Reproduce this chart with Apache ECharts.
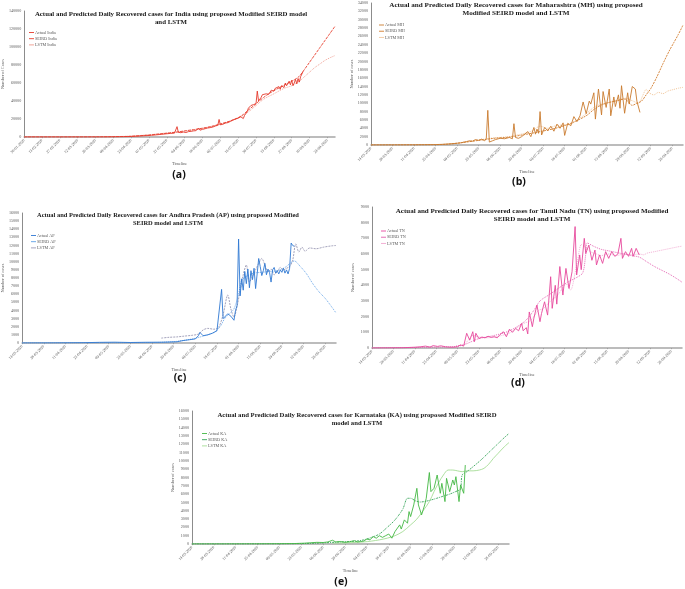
<!DOCTYPE html>
<html><head><meta charset="utf-8">
<script src="https://cdn.jsdelivr.net/npm/echarts@6/dist/echarts.min.js"></script>
<style>html,body{margin:0;padding:0;background:#fff}#c{width:685px;height:589px}</style>
</head><body><div id="c"></div>
<script>
// ---- x values are day offsets from each panel's start date ----
const indiaStart = '2020-01-30';
const stateStart = '2020-03-14';

const indiaActual = [[0,0],[30,0],[45,5],[55,20],[62,50],[68,120],[72,200],[78,350],[84,600],[88,900],[92,1200],[96,1500],[100,1900],[104,2400],[108,3000],[112,3600],[115,4000],[118,4300],[119,5000],[120,11500],[121,5200],[123,4800],[125,5500],[127,5000],[129,6000],[131,6300],[133,6800],[135,7100],[136,7400],[137,10000],[138,7600],[140,8500],[142,9200],[144,10000],[146,10400],[148,11000],[150,12200],[152,13000],[153,19500],[154,13500],[156,14200],[158,15500],[160,16000],[162,17400],[164,19000],[166,20000],[168,21000],[170,22500],[172,20500],[173,24000],[175,28000],[176,32000],[177,30000],[178,35000],[179,33000],[180,36000],[181,34000],[182,37000],[183,51000],[184,40000],[186,44000],[187,47000],[188,45000],[190,48000],[191,50000],[192,47500],[194,52000],[196,51000],[197,54000],[198,52500],[200,56000],[201,53000],[202,57000],[204,55000],[205,60000],[206,57000],[208,62000],[209,58000],[210,63000],[211,57000],[212,60000],[213,64000],[214,59000],[215,65000],[216,61000],[217,67000],[218,66000],[219,73000]];
const indiaSEIRD = [[0,0],[40,0],[60,100],[70,300],[84,800],[98,2200],[105,3200],[112,4200],[120,5500],[126,6800],[133,8200],[140,9800],[147,11800],[154,14500],[161,17500],[168,21500],[172,25000],[176,30000],[180,34500],[184,39500],[188,44000],[192,48000],[196,51500],[200,54500],[204,57500],[208,60500],[212,63500],[216,67500],[220,75000],[224,83000],[228,91000],[232,99000],[236,107000],[240,115000],[244,123000]];
const indiaLSTM = [[60,200],[70,400],[84,1000],[98,2500],[112,4500],[126,6500],[140,9500],[154,14000],[168,21000],[176,28000],[182,35000],[188,42000],[196,48000],[204,54000],[210,57000],[216,62000],[220,67000],[224,72000],[228,77000],[232,81000],[236,85000],[240,88000],[244,90500]];

const mhActual = [[0,0],[14,10],[28,30],[35,60],[42,100],[46,150],[50,250],[54,350],[58,500],[62,800],[64,1000],[66,900],[68,1300],[70,1100],[72,1400],[74,1000],[75,1500],[76,8300],[77,700],[79,1000],[81,1300],[84,1600],[87,1500],[90,1800],[92,1500],[93,5100],[94,1800],[96,1600],[98,2000],[100,2600],[102,3200],[104,2000],[106,4200],[107,2600],[108,3800],[109,2800],[110,8000],[111,2400],[113,4200],[115,3400],[117,4500],[119,3300],[121,5000],[123,4000],[125,5300],[126,2300],[128,5200],[130,4600],[132,6800],[134,5600],[136,7000],[138,10300],[140,7500],[142,10500],[143,9800],[145,12500],[146,6200],[148,13400],[150,7200],[151,12800],[153,9000],[155,13400],[156,7000],[158,11500],[159,9200],[161,12000],[162,8800],[163,14200],[165,7600],[167,12500],[168,9800],[170,14000],[172,13400],[173,10500],[175,7800]];
const mhSEIRD = [[0,0],[40,50],[50,200],[60,600],[70,1100],[80,1600],[90,1900],[100,2500],[110,3200],[120,4000],[130,5200],[140,7000],[145,8500],[150,9600],[155,10200],[160,10600],[165,11000],[170,9500],[173,10000],[176,10500],[179,12000],[182,13500],[186,16300],[190,19500],[194,22500],[197,24500],[200,26500],[203,28700]];
const mhLSTM = [[60,700],[70,1200],[80,1700],[90,2000],[95,2400],[100,2800],[105,3400],[110,4500],[115,4000],[120,4600],[125,4800],[130,5000],[135,6200],[140,7500],[145,9000],[150,9800],[155,10200],[160,10600],[165,11200],[170,10600],[174,10000],[177,12000],[179,13300],[181,12500],[184,12000],[187,12600],[190,12300],[193,12900],[197,13300],[200,13600],[203,13800]];

const apActual = [[0,0],[20,10],[40,40],[50,80],[60,100],[70,60],[80,90],[90,100],[100,150],[104,300],[108,400],[112,500],[114,900],[115,1300],[117,900],[120,1000],[123,1200],[126,1500],[127,1300],[129,6600],[130,3000],[131,2800],[133,3600],[135,3300],[137,2800],[138,4000],[139,4600],[140,12800],[141,5800],[142,7900],[143,6500],[144,8800],[145,7300],[146,9100],[147,6800],[148,8900],[149,7800],[150,9200],[151,6700],[152,8500],[153,10400],[154,9400],[155,8300],[156,8900],[157,9800],[158,8400],[159,9100],[160,8700],[161,7500],[162,9000],[163,9300],[164,8600],[165,8900],[166,8500],[167,9000],[168,8700],[169,9200],[170,8600],[171,9000],[172,8500],[173,9200],[174,12300],[175,12000],[176,11900]];
const apSEIRD = [[0,0],[60,20],[90,80],[100,200],[110,500],[118,900],[124,1300],[128,2000],[131,3000],[134,3600],[137,4200],[140,6000],[142,7700],[145,8200],[150,8600],[155,8700],[160,8800],[165,8900],[170,9300],[174,9900],[176,10100],[180,9400],[184,8500],[188,7300],[192,6300],[196,5500],[200,4500],[203,3700]];
const apLSTM = [[90,600],[95,700],[100,750],[105,850],[110,950],[114,1100],[117,1600],[120,1800],[124,1700],[127,1900],[130,3500],[133,5900],[135,4200],[137,3200],[139,4500],[141,6500],[143,8400],[145,9600],[147,7500],[149,8200],[151,9000],[153,9800],[155,10400],[157,9600],[159,8700],[161,9100],[163,8400],[165,8800],[167,9300],[169,9000],[171,9200],[173,9400],[175,10200],[177,12200],[179,11200],[181,11800],[183,11300],[186,11700],[190,11600],[195,11800],[200,11950],[203,12000]];

const tnActual = [[0,0],[10,5],[20,15],[28,50],[32,80],[35,120],[38,60],[40,150],[43,100],[45,140],[48,80],[50,60],[53,50],[56,80],[58,200],[60,120],[62,940],[64,500],[66,1040],[67,400],[68,940],[70,600],[72,700],[74,650],[76,750],[78,680],[80,720],[82,650],[84,870],[86,1040],[88,720],[90,1200],[92,1000],[94,1250],[96,1100],[98,1570],[99,1100],[101,1300],[102,900],[103,2300],[105,1360],[106,1900],[108,2740],[110,1680],[111,2200],[113,2950],[115,2100],[117,4550],[118,2530],[120,4000],[121,2800],[123,5200],[125,3380],[127,5080],[129,3800],[131,4870],[133,7750],[134,4660],[136,5940],[137,5000],[139,7000],[140,6040],[142,6570],[144,5600],[146,6250],[147,5300],[149,5940],[151,5400],[153,6150],[155,5720],[157,6150],[159,5850],[161,6000],[163,7000],[164,5720],[166,6150],[168,5850],[170,6360],[171,5850],[173,6360],[175,5940]];
const tnSEIRD = [[0,0],[40,50],[55,100],[60,200],[65,400],[70,600],[80,800],[90,1100],[100,1700],[106,2400],[110,3000],[116,3400],[122,3800],[128,4200],[134,4500],[138,4800],[140,6000],[141,6700],[145,6500],[150,6300],[155,6200],[160,6100],[165,6000],[170,5900],[175,5800],[180,5500],[185,5200],[190,4950],[195,4700],[200,4400],[203,4200]];
const tnLSTM = [[55,150],[60,200],[63,500],[66,800],[70,700],[75,650],[80,700],[85,800],[90,950],[95,1300],[100,1600],[103,1700],[106,2000],[109,2400],[112,2500],[115,2800],[118,3100],[121,3300],[124,3700],[127,4100],[130,3700],[133,4800],[135,5800],[137,6600],[139,6500],[141,6300],[144,6100],[147,6000],[150,5900],[155,6000],[160,5900],[165,6000],[170,5950],[175,6000],[178,5950],[180,6050],[185,6150],[190,6250],[195,6350],[200,6450],[203,6500]];

const kaActual = [[0,0],[20,5],[40,15],[55,30],[65,50],[72,100],[76,150],[80,200],[84,180],[87,250],[90,450],[92,250],[95,300],[98,200],[101,280],[104,400],[106,250],[108,300],[110,350],[112,600],[114,500],[116,900],[118,700],[120,1000],[122,800],[124,1000],[126,1200],[128,700],[130,1500],[131,1700],[133,2300],[134,1800],[136,2900],[138,2500],[139,3900],[140,3300],[142,4700],[144,6700],[145,4700],[147,3500],[149,4700],[150,5500],[152,8600],[153,6300],[155,6700],[157,8300],[159,6100],[160,7300],[162,5100],[163,7900],[165,6300],[167,7700],[168,7100],[169,8100],[171,5100],[172,7100],[174,6100],[175,9500]];
const kaSEIRD = [[0,0],[60,20],[80,100],[95,250],[105,350],[110,500],[115,800],[120,1200],[125,2000],[130,2900],[135,4200],[138,5500],[140,5500],[143,5200],[146,5050],[150,5150],[155,5400],[160,5700],[165,6000],[170,6400],[172,6600],[173,8300],[176,8700],[180,9300],[185,10100],[190,11000],[195,11900],[200,12800],[203,13300]];
const kaLSTM = [[90,100],[100,150],[110,250],[115,350],[120,500],[125,700],[130,1000],[135,1500],[140,2300],[144,3000],[148,4000],[152,5100],[155,6300],[158,7400],[161,8300],[164,8900],[167,8900],[170,8800],[173,8700],[176,8800],[180,8800],[184,8900],[187,9100],[190,9600],[193,10300],[196,10900],[200,11700],[203,12200]];

const titles = [
  'Actual and Predicted Daily Recovered cases for India using proposed Modified SEIRD model\nand LSTM',
  'Actual and Predicted Daily Recovered cases for Maharashtra (MH) using proposed\nModified SEIRD model and LSTM',
  'Actual and Predicted Daily Recovered cases for Andhra Pradesh (AP) using proposed Modified\nSEIRD model and LSTM',
  'Actual and Predicted Daily Recovered cases for Tamil Nadu (TN) using proposed Modified\nSEIRD model and LSTM',
  'Actual and Predicted Daily Recovered cases for Karnataka (KA) using proposed Modified SEIRD\nmodel and LSTM'
];
const panelLetters = ['(a)','(b)','(c)','(d)','(e)'];
const yMax = [140000, 34000, 16000, 9000, 16000];
const yStep = [20000, 2000, 1000, 1000, 1000];
const xMax = [244, 203, 203, 203, 203];
const yNames = ['Number of Cases','Number of cases','Number of cases','Number of cases','Number of cases'];
const names = [
  ['Actual India','SEIRD India','LSTM India'],
  ['Actual MH','SEIRD MH','LSTM MH'],
  ['Actual AP','SEIRD AP','LSTM AP'],
  ['Actual TN','SEIRD TN','LSTM TN'],
  ['Actual KA','SEIRD KA','LSTM KA']
];
const seriesData = [
  [indiaActual, indiaSEIRD, indiaLSTM],
  [mhActual, mhSEIRD, mhLSTM],
  [apActual, apSEIRD, apLSTM],
  [tnActual, tnSEIRD, tnLSTM],
  [kaActual, kaSEIRD, kaLSTM]
];

// ---- layout & style (not data) ----
const grids = [
  {left:23, top:11, width:312, height:126},
  {left:371, top:3, width:312, height:142},
  {left:22, top:213, width:314, height:130},
  {left:372, top:207, width:310, height:141},
  {left:192, top:411, width:317, height:133}
];
const titlePos = [[171,10,6.85],[516,1.3,7.15],[168,212,6.45],[532,207,7.05],[357,411.5,6.7]];
const letterPos = [[179,175],[519,182],[180,378],[518,383],[341,582]];
const legendPos = [[29,30.5],[379,23],[31,233.5],[381,229],[202,431.5]];
const styles = [
  [{c:'#e5392b',t:'solid',w:0.9},{c:'#e8402f',t:[3,1],w:0.9},{c:'#ee9a8c',t:[1,1],w:0.9}],
  [{c:'#c97b2e',t:'solid',w:0.9},{c:'#d27a2a',t:[2,1],w:0.9},{c:'#f2c79c',t:[1,1],w:1}],
  [{c:'#2f78d3',t:'solid',w:0.9},{c:'#5d9fe6',t:[1,1],w:0.9},{c:'#9a98b4',t:[2,1],w:0.9}],
  [{c:'#e6479c',t:'solid',w:0.9},{c:'#e25cae',t:[1,1],w:0.9},{c:'#f1a6cf',t:[1,1],w:0.9}],
  [{c:'#43b843',t:'solid',w:0.9},{c:'#33a457',t:[2,1,1,1],w:0.9},{c:'#a5dc95',t:'solid',w:0.9}]
];
const starts = [indiaStart, stateStart, stateStart, stateStart, stateStart];
const serif = 'Liberation Serif';

function fmtDate(startStr, v){
  const p = startStr.split('-').map(Number);
  const d = new Date(Date.UTC(p[0], p[1]-1, p[2]) + v*86400000);
  const dd = String(d.getUTCDate()).padStart(2,'0');
  const mm = String(d.getUTCMonth()+1).padStart(2,'0');
  return dd + '-' + mm + '-' + d.getUTCFullYear();
}

const option = {
  animation:false,
  backgroundColor:'#fff',
  grid: grids.map(g => Object.assign({containLabel:false}, g)),
  xAxis: grids.map((g,i) => ({
    type:'value', gridIndex:i, min:0, max:xMax[i], interval:14,
    name:'Timeline', nameLocation:'middle', nameGap:25,
    nameTextStyle:{fontFamily:serif, fontSize:4.3, color:'#595959'},
    axisLine:{show:true, lineStyle:{color:'#a6a6a6', width:1.5}},
    axisTick:{show:true, length:1.2, lineStyle:{color:'#8c8c8c', width:0.6}},
    splitLine:{show:false},
    axisLabel:{rotate:45, fontSize:3.9, fontFamily:serif, color:'#595959', margin:3, showMaxLabel:false,
      formatter:(v)=>fmtDate(starts[i], v)}
  })),
  yAxis: grids.map((g,i) => ({
    type:'value', gridIndex:i, min:0, max:yMax[i], interval:yStep[i],
    name:yNames[i], nameLocation:'middle', nameGap:17, nameRotate:90,
    nameTextStyle:{fontFamily:serif, fontSize:4.3, color:'#595959'},
    axisLine:{show:true, lineStyle:{color:'#7f7f7f', width:0.9}},
    axisTick:{show:false}, splitLine:{show:false},
    axisLabel:{fontSize:4.1, fontFamily:serif, color:'#595959', margin:3, formatter:(v)=>String(v)}
  })),
  legend: grids.map((g,i) => ({
    orient:'vertical', left:legendPos[i][0], top:legendPos[i][1],
    icon:'rect', itemWidth:5, itemHeight:0.9, itemGap:2.2, padding:0,
    textStyle:{fontFamily:serif, fontSize:4.2, color:'#595959', padding:[0,0,0,-4]},
    data:names[i]
  })),
  series: [],
  graphic: []
};
seriesData.forEach((arr,i) => {
  arr.forEach((d,j) => {
    const st = styles[i][j];
    option.series.push({
      type:'line', name:names[i][j], xAxisIndex:i, yAxisIndex:i, data:d,
      showSymbol:false, symbol:'none', smooth: j===0 ? false : 0.3,
      lineStyle:{color:st.c, width:st.w, type:st.t}, itemStyle:{color:st.c}, z: 3-j
    });
  });
});
titles.forEach((t,i) => {
  option.graphic.push({type:'text', x:titlePos[i][0], y:titlePos[i][1], z:10,
    style:{text:t, fill:'#1a1a1a', font:'bold '+titlePos[i][2]+'px "Liberation Serif"', align:'center', verticalAlign:'top', lineHeight:titlePos[i][2]*1.15}});
});
panelLetters.forEach((t,i) => {
  option.graphic.push({type:'text', x:letterPos[i][0], y:letterPos[i][1], z:10,
    style:{text:t, fill:'#111', font:'bold 10.5px "Open Sans"', align:'center', verticalAlign:'middle'}});
});
const chart = echarts.init(document.getElementById('c'), null, {renderer:'canvas'});
chart.setOption(option);
</script></body></html>
